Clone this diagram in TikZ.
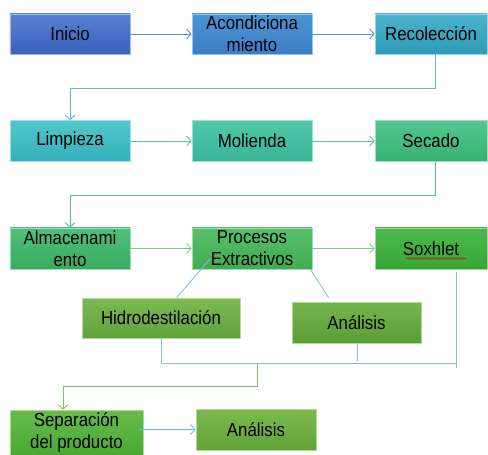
\documentclass[tikz,border=0pt]{standalone}
\usepackage{fontspec}
\setmainfont[FakeStretch=0.89]{Liberation Sans}
\usetikzlibrary{arrows.meta,calc,decorations.pathmorphing}
\definecolor{c1t}{HTML}{5783D3}\definecolor{c1b}{HTML}{3A60BE}
\definecolor{c2t}{HTML}{4C93D3}\definecolor{c2b}{HTML}{3B80C6}
\definecolor{c3t}{HTML}{4BB3CB}\definecolor{c3b}{HTML}{2F9BB8}
\definecolor{c4t}{HTML}{55C6CD}\definecolor{c4b}{HTML}{30B0B8}
\definecolor{c5t}{HTML}{50C8AA}\definecolor{c5b}{HTML}{36B594}
\definecolor{c6t}{HTML}{52C890}\definecolor{c6b}{HTML}{36B070}
\definecolor{c7t}{HTML}{4EC07C}\definecolor{c7b}{HTML}{38AC5E}
\definecolor{c8t}{HTML}{56C06C}\definecolor{c8b}{HTML}{40AC50}
\definecolor{c9t}{HTML}{4CBA4A}\definecolor{c9b}{HTML}{38A636}
\definecolor{c10t}{HTML}{7CBA54}\definecolor{c10b}{HTML}{62A23A}
\definecolor{c11t}{HTML}{74B44C}\definecolor{c11b}{HTML}{5A9E32}
\definecolor{c12t}{HTML}{66BC4C}\definecolor{c12b}{HTML}{4AA832}
\definecolor{c13t}{HTML}{7CBA4E}\definecolor{c13b}{HTML}{62A238}
\definecolor{lblue}{HTML}{5B90D8}
\definecolor{lcyan}{HTML}{5CB8D2}
\definecolor{lteal}{HTML}{55C2AE}
\definecolor{lgreen}{HTML}{55C08E}
\definecolor{llgreen}{HTML}{7CCC88}
\definecolor{lsky}{HTML}{90B8E0}
\definecolor{lgr2}{HTML}{78C466}
\definecolor{lcy2}{HTML}{50C8D2}
\tikzset{
  box/.style 2 args={top color=#1, bottom color=#2, draw=#1!55!white, line width=0.7bp,
    minimum width=120bp, minimum height=40bp, inner sep=1bp, align=center,
    font=\fontsize{19}{22}\selectfont, text=black},
  conn/.style={line width=0.9bp},
  arr/.style={conn, -{Straight Barb[length=4.5bp,width=10bp,line width=0.9bp]}}
}
\begin{document}
\begin{tikzpicture}[x=1bp,y=-1bp]
\useasboundingbox (0,0) rectangle (488,455);
% row 1
\node[box={c1t}{c1b}] (inicio) at (70,34) {Inicio};
\node[box={c2t}{c2b}] (acond) at (252,34) {Acondiciona\\miento};
\node[box={c3t}{c3b}, minimum width=112bp] (recol) at (431,34) {Recolección};
% row 2
\node[box={c4t}{c4b}, minimum height=41bp] (limp) at (70,141) {Limpieza};
\node[box={c5t}{c5b}, minimum height=41bp] (mol) at (252,141) {Molienda};
\node[box={c6t}{c6b}, minimum width=112bp, minimum height=41bp] (sec) at (431,141) {Secado};
% row 3
\node[box={c7t}{c7b}, minimum height=41bp] (alm) at (70,248.5) {Almacenami\\ento};
\node[box={c8t}{c8b}, minimum height=41bp] (proc) at (252,248.5) {Procesos\\Extractivos};
\node[box={c9t}{c9b}, minimum width=112bp, minimum height=41bp] (sox) at (431,248.5) {Soxhlet};
\node[box={c10t}{c10b}, minimum width=158bp] (hidro) at (161,318) {Hidrodestilación};
\node[box={c11t}{c11b}, minimum width=129bp, minimum height=41bp] (anal1) at (356.5,322.5) {Análisis};
% row 4
\node[box={c12t}{c12b}, minimum width=133bp, minimum height=45bp] (sep) at (76.5,432.5) {Separación\\del producto};
\node[box={c13t}{c13b}, minimum height=41bp] (anal2) at (256,429.5) {Análisis};
% spell-check squiggle
\draw[red!80!black, opacity=0.8, line width=0.5bp, decorate, decoration={zigzag, amplitude=0.9bp, segment length=2.6bp}]
  (406,258.5) -- (467,258.5);
% connectors
\draw[arr, lblue] (inicio.east) -- (acond.west);
\draw[arr, lblue] (acond.east) -- (recol.west);
\draw[arr, lcyan] ([xshift=4bp]recol.south) -- ++(0,34) -| (limp.north);
\draw[arr, lteal] (limp.east) -- (mol.west);
\draw[arr, lteal] (mol.east) -- (sec.west);
\draw[arr, lgreen] ([xshift=4bp]sec.south) -- ++(0,33.5) -| (alm.north);
\draw[arr, llgreen] (alm.east) -- (proc.west);
\draw[arr, llgreen] (proc.east) -- (sox.west);
% branch lines
\coordinate (pa) at ($(proc.south west)+(18,-10)$);
\coordinate (ha) at ($(hidro.north west)+(95,0)$);
\coordinate (pb) at ($(proc.south east)+(-2,0)$);
\coordinate (ab) at ($(anal1.north west)+(37,-4)$);
\draw[conn, lsky] (pa) -- (ha);
\draw[conn, lsky] (pb) -- (ab);
% collecting bracket
\coordinate (hb) at ($(hidro.south west)+(80,0)$);
\coordinate (hj) at ($(hb)+(0,25)$);
\coordinate (sa) at ($(sox.south west)+(82,3)$);
\coordinate (sj) at ($(sa)+(0,96)$);
\coordinate (ac) at ($(anal1.south west)+(66,0)$);
\coordinate (aj) at ($(ac)+(0,18)$);
\coordinate (gj) at (257,363);
\coordinate (gk) at (257,386);
\draw[conn, lsky] (hb) -- (hj) -- (hj -| sa) ;
\draw[conn, lsky] (sa) -- (sj);
\draw[conn, lsky] (ac) -- (aj);
\draw[arr, lgr2] (gj) -- (gk) -| ([xshift=-13.5bp]sep.north);
\draw[arr, lcy2] ([xshift=-4bp]anal2.west -| sep.east) -- (anal2.west);
\end{tikzpicture}
\end{document}
